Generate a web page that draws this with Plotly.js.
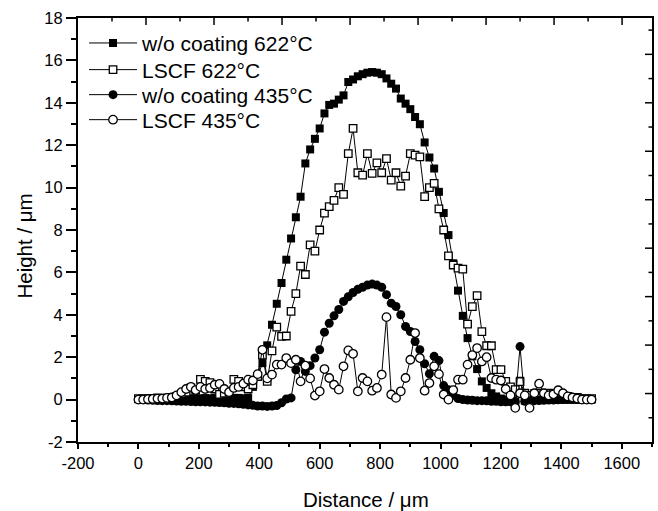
<!DOCTYPE html>
<html>
<head>
<meta charset="utf-8">
<script src="https://cdn.plot.ly/plotly-3.0.1.min.js"></script>
<style>
html,body{margin:0;padding:0;background:#fff;}
#wrap{position:relative;width:658px;height:511px;}
#chart{width:658px;height:511px;}
#frame{position:absolute;left:0;top:0;pointer-events:none;}
</style>
</head>
<body>
<div id="wrap">
<div id="chart"></div>
<svg id="frame" width="658" height="511" xmlns="http://www.w3.org/2000/svg"></svg>
</div>
<script>
// Distance (µm) sample positions shared by all four profiles
var distance = [0,15.8,31.6,47.4,63.2,78.9,94.7,110.5,126.3,142.1,157.9,173.7,189.5,205.3,221.1,236.8,252.6,268.4,284.2,300,
315.8,331.6,347.4,363.2,378.9,394.7,410.5,426.3,442.1,457.9,473.7,489.5,505.3,521.1,536.8,552.6,568.4,584.2,600,615.8,
631.6,647.4,663.2,678.9,694.7,710.5,726.3,742.1,757.9,773.7,789.5,805.3,821.1,836.8,852.6,868.4,884.2,900,915.8,931.6,
947.4,963.2,978.9,994.7,1010.5,1026.3,1042.1,1057.9,1073.7,1089.5,1105.3,1121.1,1136.8,1152.6,1168.4,1184.2,1200,1215.8,1231.6,1247.4,
1263.2,1278.9,1294.7,1310.5,1326.3,1342.1,1357.9,1373.7,1389.5,1405.3,1421.1,1436.8,1452.6,1468.4,1484.2,1500];

// Height (µm) — w/o coating 622°C
var woCoating622 = [0.02,0.02,0.03,0.02,0.03,0.04,0.03,0.04,0.05,0.04,
0.05,0.06,0.05,0.06,0.07,0.06,0.08,0.07,0.08,0.08,
0.08,0.08,0.06,0.08,0.6,1.07,1.72,2.56,3.53,4.52,
5.5,6.6,7.6,8.6,9.57,11.14,11.8,12.3,12.79,13.5,
13.9,13.96,14.15,14.35,14.98,15.1,15.25,15.35,15.42,15.45,
15.42,15.35,15.15,14.9,14.67,14.2,13.96,13.7,13.33,12.99,
12.13,11.42,10.9,9.8,8.8,7.76,6.43,5.14,3.95,2.9,
2.04,1.44,0.86,0.55,0.3,0.15,0.05,0.0,-0.05,-0.1,
0.89,-0.05,0.0,0.02,0.0,0.02,0.0,0.01,0.0,0.0,
0.01,0.0,0.0,0.0,0.0,0.0];

// Height (µm) — LSCF 622°C
var lscf622 = [0.05,0.05,0.05,0.06,0.08,0.06,0.08,0.1,0.15,0.25,
0.35,0.55,0.45,0.95,0.86,0.8,0.5,0.25,0.3,0.35,
0.95,0.86,0.6,0.5,0.7,1.1,2.1,0.86,2.3,3.42,
2.98,3.0,4.16,5.0,6.3,5.9,7.3,7.0,8.0,8.8,
9.1,9.4,10.0,9.68,11.6,12.79,10.7,10.59,11.6,10.67,
11.17,10.7,11.37,10.35,10.7,10.07,10.54,11.6,11.53,11.45,
9.57,10.0,10.2,9.0,8.0,6.78,6.35,6.2,6.15,3.56,
4.39,4.9,3.21,2.54,2.54,1.41,1.41,0.86,0.6,0.47,
0.85,0.3,0.2,0.28,0.3,0.28,0.3,0.28,0.25,0.2,
0.15,0.1,0.1,0.05,0.05,0.05];

// Height (µm) — w/o coating 435°C
var woCoating435 = [0.0,0.0,-0.02,-0.03,-0.04,-0.05,-0.05,-0.06,-0.07,-0.08,
-0.08,-0.09,-0.1,-0.1,-0.11,-0.12,-0.13,-0.14,-0.15,-0.17,
-0.18,-0.2,-0.22,-0.25,-0.27,-0.3,-0.3,-0.32,-0.3,-0.28,
-0.15,0.03,0.08,1.41,1.8,1.33,1.6,1.96,2.35,3.18,
3.6,3.95,4.25,4.63,4.85,5.05,5.2,5.3,5.4,5.45,
5.4,5.3,4.95,4.55,4.39,4.0,3.45,3.21,2.74,2.35,
1.69,1.22,2.04,1.84,0.66,0.47,0.2,0.05,0.0,-0.02,
-0.03,-0.05,-0.05,-0.06,-0.08,-0.08,-0.1,-0.1,-0.1,-0.1,
2.5,-0.08,-0.06,-0.05,-0.04,-0.03,-0.02,-0.02,-0.01,0.0,
0.0,0.0,0.0,0.0,0.0,0.0];

// Height (µm) — LSCF 435°C
var lscf435 = [0.0,0.0,0.02,0.03,0.05,0.05,0.08,0.1,0.2,0.35,
0.5,0.6,0.45,0.6,0.5,0.55,0.7,0.74,0.5,0.35,
0.55,0.6,0.75,0.94,0.9,1.2,2.35,1.0,1.18,1.65,
1.65,1.96,1.72,1.88,0.86,1.6,1.0,0.19,0.39,1.44,
1.02,0.7,0.47,1.57,2.32,2.16,0.39,1.02,0.86,0.42,
0.55,1.18,3.89,0.24,0.08,0.39,1.02,1.88,3.14,1.96,
0.42,0.78,1.57,1.2,0.24,0.0,0.45,0.94,0.94,1.65,
2.1,2.43,1.8,2.0,1.02,0.94,0.9,0.5,0.2,-0.39,
0.3,0.2,-0.39,0.3,0.75,0.3,0.2,0.25,0.44,0.3,
0.15,0.1,0.05,0.0,0.0,0.0];

var seriesNames = ["w/o coating 622°C", "LSCF 622°C", "w/o coating 435°C", "LSCF 435°C"];

var xRange = [-200, 1700];
var yRange = [-2, 18];
var xTickVals = [-200,0,200,400,600,800,1000,1200,1400,1600];
var xTickText = ["-200","0","200","400","600","800","1000","1200","1400","1600"];
var yTickVals = [-2,0,2,4,6,8,10,12,14,16,18];
var yTickText = ["-2","0","2","4","6","8","10","12","14","16","18"];

var FONT = "Liberation Sans, Arial, Helvetica, sans-serif";
var W = 658, H = 511, M = {l: 78, r: 6, t: 18, b: 69};

function trace(y, name, symbol, fill, size, legendId) {
  return {
    x: distance, y: y, name: name, type: "scatter", mode: "lines+markers",
    legend: legendId,
    line: {color: "#000", width: 1},
    marker: {symbol: symbol, size: size, color: fill, line: {color: "#000", width: fill === "#fff" ? 1.3 : 0}},
    hoverinfo: "x+y"
  };
}

var data = [
  trace(woCoating622, seriesNames[0], "square", "#000", 8, "legend"),
  trace(lscf622, seriesNames[1], "square", "#fff", 7.5, "legend2"),
  trace(woCoating435, seriesNames[2], "circle", "#000", 9, "legend3"),
  trace(lscf435, seriesNames[3], "circle", "#fff", 8.5, "legend4")
];

function legendAt(yPaper) {
  return {
    x: 0.0105, y: yPaper, xanchor: "left", yanchor: "middle",
    bgcolor: "rgba(0,0,0,0)", borderwidth: 0,
    font: {family: FONT, size: 21, color: "#000"},
    itemwidth: 48
  };
}

var layout = {
  width: W, height: H,
  margin: M,
  paper_bgcolor: "#fff", plot_bgcolor: "#fff",
  font: {family: FONT, size: 16.5, color: "#000"},
  showlegend: true,
  legend: legendAt(0.9403),
  legend2: legendAt(0.8774),
  legend3: legendAt(0.8184),
  legend4: legendAt(0.7594),
  xaxis: {
    range: xRange, tickmode: "array", tickvals: xTickVals, ticktext: xTickText,
    ticks: "outside", ticklen: 5, tickwidth: 1.5, tickcolor: "#000",
    minor: {tickmode: "linear", tick0: -200, dtick: 100, ticks: "outside", ticklen: 3, tickwidth: 1.5, tickcolor: "#000"},
    showline: true, linewidth: 2, linecolor: "#000", mirror: true,
    showgrid: false, zeroline: false,
    tickfont: {family: FONT, size: 16.5, color: "#000"}
  },
  yaxis: {
    range: yRange, tickmode: "array", tickvals: yTickVals, ticktext: yTickText,
    ticks: "outside", ticklen: 10, tickwidth: 1.5, tickcolor: "#000",
    minor: {tickmode: "linear", tick0: -2, dtick: 1, ticks: "outside", ticklen: 5, tickwidth: 1.5, tickcolor: "#000"},
    showline: true, linewidth: 2, linecolor: "#000", mirror: true,
    showgrid: false, zeroline: false,
    tickfont: {family: FONT, size: 16.5, color: "#000"}
  },
  annotations: [
    {text: "Distance / μm", xref: "paper", yref: "paper", x: 0.5017, y: -0.1356,
     xanchor: "center", yanchor: "middle", showarrow: false,
     font: {family: FONT, size: 20.5, color: "#000"}},
    {text: "Height / μm", xref: "paper", yref: "paper", x: -0.0923, y: 0.461,
     xanchor: "center", yanchor: "middle", showarrow: false, textangle: -90,
     font: {family: FONT, size: 20.5, color: "#000"}}
  ]
};

// Top and right frame with inward ticks (independent spacing, as in the original figure)
function drawFrame() {
  var svg = document.getElementById("frame");
  var NS = "http://www.w3.org/2000/svg";
  var L = M.l, R = W - M.r, T = M.t, B = H - M.b;
  function line(x1, y1, x2, y2, w) {
    var el = document.createElementNS(NS, "line");
    el.setAttribute("x1", x1); el.setAttribute("y1", y1);
    el.setAttribute("x2", x2); el.setAttribute("y2", y2);
    el.setAttribute("stroke", "#000"); el.setAttribute("stroke-width", w);
    svg.appendChild(el);
  }
  line(L - 2, T - 1, R + 2, T - 1, 2);   // top border
  line(R + 1, T - 2, R + 1, B + 2, 2);   // right border
  var TOP_DIVS = 8.44, RIGHT_DIVS = 8.75;
  var topStep = (R - L) / TOP_DIVS / 2, rightStep = (B - T) / RIGHT_DIVS / 2;
  for (var k = 1; L + k * topStep < R - 1; k++) {
    var xk = L + k * topStep;
    line(xk, T, xk, T + (k % 2 === 0 ? 7 : 3.5), 1.5);
  }
  for (var m = 1; B - m * rightStep > T + 1; m++) {
    var ym = B - m * rightStep;
    line(R, ym, R - (m % 2 === 0 ? 7 : 3.5), ym, 1.5);
  }
}

Plotly.newPlot("chart", data, layout, {displayModeBar: false}).then(drawFrame);
</script>
</body>
</html>
